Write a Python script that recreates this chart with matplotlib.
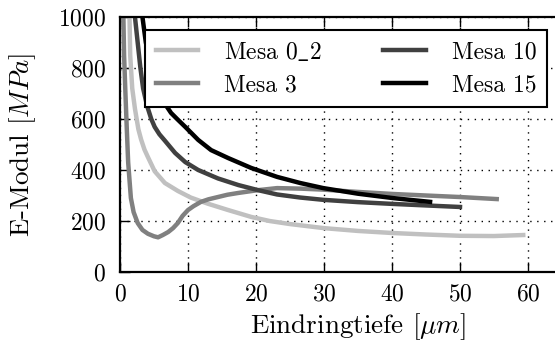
import matplotlib
matplotlib.use("Agg")
import matplotlib.pyplot as plt

plt.rcParams['font.family'] = ['cmr10', 'DejaVu Serif']
plt.rcParams['mathtext.fontset'] = 'cm'
plt.rcParams['axes.formatter.use_mathtext'] = True

labels = [r"Mesa 0$\_$2", "Mesa 3", "Mesa 10", "Mesa 15"]
colors = ["#c0c0c0", "#808080", "#404040", "#000000"]

x_m02 = [1.3, 1.4, 1.5, 1.8, 2.2, 2.7, 3.1, 3.6, 4.1, 5.1, 6.6, 8.5, 10.4, 12.9, 15.9, 19.3, 22.0, 25.0, 30.0, 35.0, 40.0, 45.0, 50.0, 55.0, 59.3]
y_m02 = [1100, 1000, 850, 720, 640, 560, 520, 480, 451, 395, 349, 318, 292, 268, 243, 216, 200, 188, 172, 161, 153, 147, 142, 141, 145]

x_m3 = [0.45, 0.5, 0.6, 0.8, 1.0, 1.2, 1.6, 2.0, 2.6, 3.3, 4.1, 5.0, 5.6, 6.3, 7.1, 7.8, 8.5, 9.2, 10.0, 10.8, 11.9, 13.0, 14.4, 15.8, 17.4, 20.3, 23.1, 26.5, 29.9, 35.0, 40.1, 45.0, 50.0, 55.4]
y_m3 = [1100, 1000, 850, 700, 560, 430, 290, 235, 192, 165, 150, 140, 136, 145, 157, 172, 192, 220, 243, 258, 275, 285, 294, 303, 310, 321, 329, 327, 323, 314, 306, 300, 294, 286]

x_m10 = [2.1, 2.2, 2.6, 3.0, 3.4, 4.0, 4.6, 5.1, 5.8, 6.6, 8.1, 9.6, 11.5, 14.4, 17.4, 20.3, 23.1, 26.5, 29.9, 35.0, 40.1, 45.0, 50.0]
y_m10 = [1100, 1000, 900, 800, 720, 650, 600, 569, 540, 515, 467, 431, 400, 367, 341, 321, 304, 292, 283, 274, 267, 261, 255]

x_m15 = [3.2, 3.3, 3.8, 4.4, 5.2, 5.9, 6.6, 7.5, 8.4, 9.6, 11.5, 13.4, 15.9, 19.3, 23.1, 26.5, 29.9, 35.0, 40.1, 43.0, 45.6]
y_m15 = [1100, 1000, 900, 820, 740, 690, 660, 624, 600, 569, 518, 478, 447, 408, 373, 349, 329, 307, 290, 282, 275]

xs = [x_m02, x_m3, x_m10, x_m15]
ys = [y_m02, y_m3, y_m10, y_m15]

fig = plt.figure(figsize=(5.55, 3.42), dpi=100)
ax = fig.add_axes([120/555, 1-272/342, (596-120)/555, (272-17)/342])

for x, y, c, l in zip(xs, ys, colors, labels):
    ax.plot(x, y, color=c, lw=3.2, label=l, solid_joinstyle='round')

ax.set_xlim(0, 70)
ax.set_ylim(0, 1000)
ax.set_xticks([0, 10, 20, 30, 40, 50, 60])
ax.set_yticks([0, 200, 400, 600, 800, 1000])
ax.grid(True, color='black', linestyle=(0, (1, 4)), lw=1.0)
for s in ax.spines.values():
    s.set_linewidth(1.6)
ax.tick_params(direction='in', length=7, width=1.0, top=True, right=True,
               labelsize=17)
ax.tick_params(axis='y', pad=10)
ax.tick_params(axis='x', pad=8)
ax.set_xlabel(r"Eindringtiefe [$\mu m$]", fontsize=19.5, labelpad=4)
ax.set_ylabel(r"E-Modul [$MPa$]", fontsize=19.5, labelpad=14)

leg = fig.legend(loc='upper left', bbox_to_anchor=(145/555, 1-30/342), ncol=2,
                 fontsize=17, frameon=True, fancybox=False, edgecolor='black',
                 framealpha=1, handlelength=1.8, columnspacing=2.6,
                 borderpad=0.45, labelspacing=0.45, handletextpad=1.1,
                 borderaxespad=0.0)
leg.get_frame().set_linewidth(1.5)

fig.savefig("out.png", dpi=100)
